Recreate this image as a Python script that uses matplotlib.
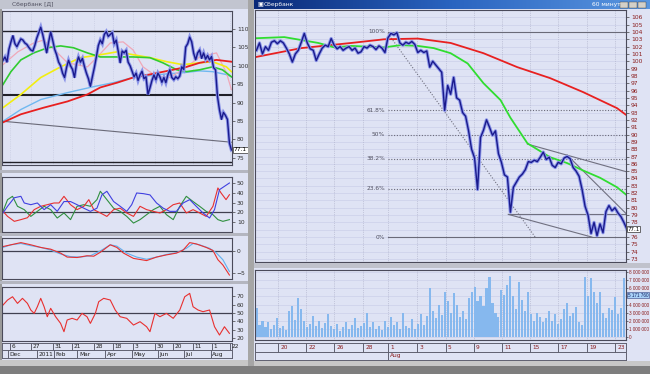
import matplotlib
matplotlib.use('Agg')
import matplotlib.pyplot as plt
from matplotlib.patches import Rectangle
from matplotlib.transforms import blended_transform_factory
from matplotlib.colors import LinearSegmentedColormap
import numpy as np

plt.rcParams['font.family'] = ['DejaVu Sans']

# ---------------- LEFT WINDOW: daily chart ----------------
left_close = [101.5, 102.4, 101.0, 104.5, 106.5, 108.2, 106.0, 105.2, 106.3, 107.3,
              107.0, 106.2, 105.8, 105.0, 104.3, 104.0, 105.5, 107.5, 109.0, 110.5,
              108.5, 106.0, 103.5, 106.5, 109.2, 107.0, 104.5, 103.0, 101.0, 100.0,
              98.0, 96.8, 99.5, 101.5, 100.0, 99.0, 96.8, 100.5, 102.4, 101.0,
              102.0, 99.8, 98.0, 96.5, 94.4, 97.0, 99.5, 102.4, 105.5, 107.0,
              106.0, 108.5, 109.3, 108.0, 108.5, 109.0, 106.0, 107.0, 104.0, 100.8,
              104.0, 103.5, 104.2, 101.0, 100.0, 98.5, 97.0, 98.0, 96.0, 97.5,
              98.5, 96.5, 97.0, 92.2, 94.0, 96.0, 97.5, 96.2, 98.0, 97.0,
              95.5, 96.8, 95.4, 97.5, 98.9, 96.8, 96.2, 97.0, 96.5, 97.2,
              99.7, 99.0, 105.1, 106.0, 107.8, 106.5, 103.4, 101.6, 103.5, 104.3,
              102.0, 103.5, 101.8, 102.8, 101.6, 102.5, 99.5, 98.9, 91.6, 88.0,
              85.4, 87.3, 86.5, 85.4, 79.0, 77.1]

ma_pink_days = [0, 7.5, 15.5, 20.5, 27.5, 32.5, 42.5, 47.5, 54, 60.5, 65.5, 70.5, 77.5, 84, 92.5, 99, 107.5, 112.5, 115]
ma_pink = [100.3, 103.8, 106.2, 107.0, 103.5, 100.8, 99.7, 102.4, 106.2, 106.5, 104.3, 99.7, 97.0, 96.8, 99.7, 102.4, 103.5, 98.1, 93.5]
ma_green_days = [0, 4, 9, 15.5, 22.5, 29, 35.5, 42.5, 49, 57.5, 65.5, 74, 80.5, 87.5, 92.5, 99, 105.5, 110.5, 115]
ma_green = [94.9, 98.4, 101.6, 103.5, 104.9, 105.4, 104.9, 103.5, 102.4, 102.4, 102.4, 102.2, 100.8, 98.9, 98.4, 98.9, 99.7, 98.9, 97.0]
ma_yellow_days = [0, 9, 19, 29, 39, 49, 57.5, 65.5, 74, 82.5, 90.5, 99, 105.5, 112.5, 115]
ma_yellow = [88.6, 92.2, 96.8, 99.7, 102.2, 103.0, 103.8, 103.0, 102.2, 101.1, 100.3, 100.8, 101.1, 99.7, 98.4]
ma_blue_days = [0, 9, 19, 32.5, 45.5, 55.5, 65.5, 74, 82.5, 90.5, 99, 105.5, 112.5, 115]
ma_blue = [84.9, 88.1, 90.8, 92.7, 94.3, 95.4, 96.8, 97.3, 97.8, 98.1, 98.6, 98.4, 97.6, 97.0]
ma_red_days = [0, 9, 20.5, 32.5, 42.5, 49, 57.5, 65.5, 75.5, 85.5, 92.5, 99, 107.5, 115]
ma_red = [84.6, 86.8, 88.6, 90.3, 92.2, 94.1, 95.4, 96.8, 97.8, 98.9, 99.7, 100.8, 101.6, 101.1]

left_levels = [109.5, 92.0, 73.8]
left_trend_days = [0, 115]
left_trend = [84.9, 79.2]

left_tick_days = [3.5, 14, 25, 34.5, 46, 55.5, 65.5, 76.5, 85.5, 95.5, 105, 114.5]
left_tick_labels = ['6', '27', '31', '21', '28', '18', '3', '30', '20', '11', '1', '22']
left_month_days = [2.5, 17, 25.5, 37.5, 51.5, 65, 78, 91, 104.5]
left_month_labels = ['Dec', '2011', 'Feb', 'Mar', 'Apr', 'May', 'Jun', 'Jul', 'Aug']

dmi_blue_days = [0, 2.3, 5.7, 9, 10.7, 14, 17.3, 20.7, 24, 27.3, 30.7, 34, 37.3, 40.7, 44, 47.3, 49.8, 52.3, 55.7,
                 59, 62.3, 64.8, 67.3, 70.7, 74, 77.3, 80.7, 84, 87.3, 90.7, 94, 97.3, 100.7, 104, 106.5, 109, 111.5, 114]
dmi_blue = [19, 26, 35, 36.5, 29.5, 27.7, 29.5, 22.5, 27.7, 20.7, 31, 31, 27.7, 24, 20.7, 24, 38, 41.8, 31,
            26, 20.7, 27.7, 40, 39.3, 38, 29.5, 24, 20.7, 20.7, 29.5, 33, 26, 19, 13.7, 22.5, 43.5, 47, 50.5]
dmi_red_days = [0, 2.3, 5.7, 9, 12.3, 15.7, 19, 22.3, 25.7, 28.2, 30.7, 34, 37.3, 40.7, 43.2, 45.7, 49, 52.3, 55.7,
                59, 62.3, 65.7, 69, 72.3, 75.7, 79, 82.3, 85.7, 89, 92.3, 95.7, 99, 102.3, 105.7, 108.2, 109.8, 112.3, 114]
dmi_red = [20.7, 15.4, 10.2, 12, 14, 22.5, 26, 27.7, 29.5, 29.5, 36.5, 27.7, 22.5, 26, 33, 22.5, 19, 15.4, 22.5,
           24, 19, 15.4, 26, 22.5, 20.7, 19, 22.5, 27.7, 29.5, 19, 22.5, 19, 15.4, 26, 45.3, 40, 33, 38.2]
dmi_green_days = [0, 2.3, 4.8, 7.3, 10.7, 14, 17.3, 20.7, 24, 27.3, 30.7, 34, 37.3, 40.7, 44, 47.3, 49, 52.3, 55.7,
                  59, 62.3, 65.7, 69, 72.3, 75.7, 79, 82.3, 85.7, 89, 92.3, 95.7, 99, 102.3, 105.7, 108.2, 110.7, 114]
dmi_green = [20.7, 33, 36.5, 26, 22.5, 15.4, 20.7, 26, 22.5, 13.7, 19, 12, 26, 27.7, 26, 33, 41.8, 33, 24,
             20.7, 15.4, 8.4, 12, 17.2, 22.5, 26, 17.2, 12, 26, 36.5, 31, 26, 20.7, 17.2, 12, 10.2, 12]

macd_red_days = [0, 4, 9, 14, 19, 24, 29, 32.3, 37.3, 42.3, 45.7, 49, 54, 57.3, 60.7, 65.7, 72.3, 77.3, 82.3,
                 87.3, 90.7, 94, 97.3, 102.3, 105.7, 108.2, 110.7, 114]
macd_red = [1.0, 1.4, 1.9, 1.4, 0.8, 0.4, -0.5, -1.4, -1.5, -1.1, -1.2, -0.3, 1.4, 0.8, -0.5, -1.7, -2.2, -1.4, -0.9,
            -0.5, 0.2, 1.9, 1.6, 0.8, 0.1, -2.0, -3.2, -5.5]
macd_blue_days = [0, 4, 9, 14, 19, 24, 29, 34, 39, 44, 49, 54, 57.3, 62.3, 67.3, 72.3, 77.3, 82.3, 87.3,
                  92.3, 95.7, 99, 104, 107.3, 110.7, 114]
macd_blue = [0.8, 1.4, 1.7, 1.2, 0.8, 0.2, -0.7, -1.3, -1.4, -1.1, 0.0, 1.4, 1.1, -0.5, -1.4, -1.9, -1.4, -0.8, -0.4,
             0.6, 1.7, 1.4, 0.6, -0.4, -2.0, -4.7]

rsi_days = [0, 2.3, 4.8, 7.3, 9.8, 12.3, 14, 15.7, 17.3, 19, 20.7, 22.3, 24, 26.5, 29, 30.7, 32.3, 34.8, 37.3, 39.8,
            42.3, 44, 46.5, 48.2, 50.7, 54, 56.5, 59, 62.3, 65.7, 69, 72.3, 74, 76.5, 79, 82.3, 85.7, 89, 91.5, 94,
            95.7, 98.2, 100.7, 104, 106.5, 109, 111.5, 114]
rsi = [59.5, 65.5, 69.4, 61.5, 67.5, 61.5, 53.6, 49.6, 57.5, 67.5, 57.5, 45.6, 55.6, 45.6, 37.7, 27.8, 41.7, 43.7, 41.7, 49.6,
       45.6, 37.7, 49.6, 63.5, 67.5, 65.5, 53.6, 45.6, 43.7, 35.7, 39.7, 33.7, 27.8, 49.6, 45.6, 49.6, 43.7, 53.6, 69.4, 73.4,
       57.5, 53.6, 51.6, 53.6, 33.7, 23.8, 33.7, 25.8]

# ---------------- RIGHT WINDOW: 60-minute chart ----------------
right_close = [101.5, 102.5, 101.0, 102.0, 101.5, 102.6, 102.8, 102.4, 102.8, 102.5,
               101.8, 101.0, 99.9, 101.0, 101.5, 102.6, 103.8, 102.5, 101.7, 101.5,
               100.1, 101.0, 101.8, 102.2, 102.0, 103.1, 102.2, 101.7, 102.0, 101.5,
               101.8, 102.0, 101.5, 101.8, 101.1, 101.3, 102.0, 101.8, 102.2, 102.0,
               101.6, 102.1, 101.8, 101.2, 103.2, 103.8, 103.6, 103.9, 102.5, 102.2,
               102.6, 102.4, 102.7, 102.3, 101.2, 101.5, 101.2, 101.4, 99.2, 100.0,
               99.5, 99.0, 98.5, 93.3, 96.7, 95.5, 97.8, 95.0, 94.7, 93.0,
               92.5, 90.5, 88.0, 86.8, 82.5, 89.6, 90.6, 92.0, 91.0, 89.9,
               90.5, 87.4, 86.2, 84.5, 84.2, 79.4, 82.8, 83.5, 84.2, 84.6,
               85.2, 86.3, 86.2, 86.5, 86.3, 86.9, 87.6, 86.6, 86.9, 85.8,
               85.5, 86.2, 86.0, 86.8, 87.0, 86.7, 85.5, 85.0, 84.3, 82.5,
               80.2, 79.0, 76.5, 78.0, 76.2, 77.8, 76.6, 79.5, 80.3, 79.6,
               80.0, 79.3, 78.8, 78.0, 77.1]

right_volume_mln = [3.6, 1.5, 2.0, 1.2, 1.8, 1.0, 1.5, 2.4, 1.1, 1.4,
                    0.9, 3.2, 3.8, 2.1, 4.8, 3.5, 2.0, 1.2, 1.6, 2.6,
                    1.4, 2.0, 1.1, 1.7, 2.8, 1.3, 1.0, 1.6, 0.8, 1.2,
                    1.9, 1.0, 1.5, 2.3, 1.1, 1.3, 1.7, 3.0, 1.2, 1.8,
                    1.0, 1.4, 0.9, 2.0, 1.2, 2.5, 1.5, 1.8, 1.0, 3.0,
                    1.4, 1.1, 2.2, 1.0, 1.6, 2.8, 1.5, 2.6, 6.0, 3.2,
                    2.4, 4.0, 2.7, 5.6, 4.5, 3.0, 5.4, 4.0, 2.5, 3.2,
                    2.2, 4.8, 5.5, 6.2, 4.5, 5.0, 3.8, 6.0, 7.4, 4.2,
                    3.0, 2.5, 5.8, 5.2, 6.4, 7.5, 5.0, 3.5, 6.8, 4.6,
                    3.2, 5.6, 2.8, 2.0, 3.0, 2.5, 1.8, 2.4, 3.2, 2.0,
                    2.8, 1.6, 2.2, 3.4, 4.2, 2.6, 3.0, 3.7, 1.8, 1.5,
                    7.4, 5.0, 7.3, 5.6, 4.2, 5.5, 3.0, 2.4, 3.6, 3.3,
                    4.9, 2.8, 3.6, 7.3, 5.2]

r_red_days = [0, 15, 31.7, 42.7, 54, 65, 76, 87.3, 98.3, 109.3, 120.7, 124]
r_red = [100.6, 101.8, 102.5, 103.0, 103.1, 102.5, 101.1, 99.2, 97.7, 95.8, 93.6, 92.6]
r_green_days = [0, 9.3, 20.7, 26, 31.7, 42.7, 48.3, 54, 59.3, 65, 70.7, 76, 81.7, 85, 90.7, 98.3, 104, 109.3, 115, 120.7, 124]
r_green = [103.15, 103.3, 102.5, 101.9, 102.1, 101.9, 102.2, 102.1, 101.8, 101.1, 99.7, 97.0, 94.7, 92.3, 88.8, 86.9,
           86.1, 85.1, 84.1, 82.8, 81.7]

fib_levels = [104.0, 93.3, 90.0, 86.7, 82.6, 76.0]
fib_labels = ['100%', '61.8%', '50%', '38.2%', '23.6%', '0%']
fib_start = 44

trend_lines = [  # (bars, values, style)
    ([44, 93.3], [103.8, 76.0], ':'),
    ([90.7, 124], [88.7, 84.9], '-'),
    ([104, 124], [87.2, 79.1], '-'),
    ([84.3, 124], [79.1, 79.1], '-'),
    ([84.3, 112.3], [79.1, 76.0], '-'),
]

right_price_ticks = list(range(73, 107))
right_price_labels = ['' if v == 77 else str(v) for v in right_price_ticks]

right_tick_bars = [7.3, 16.7, 26, 35.7, 44, 53.7, 63.3, 72.7, 82.3, 91.7, 101, 110.7, 120]
right_tick_labels = ['20', '22', '26', '28', '1', '3', '5', '9', '11', '15', '17', '19', '23']
right_month_bars = [44]
right_month_labels = ['Aug']

vol_ticks = [0, 1, 2, 3, 4, 5, 6, 7, 8]
vol_tick_labels = ['0', '1 000 000', '2 000 000', '3 000 000', '4 000 000', '', '6 000 000', '7 000 000', '8 000 000']

# ---------------- figure ----------------
W, H = 650.0, 374.0
BG = '#dfe3f4'
fig = plt.figure(figsize=(6.5, 3.74), dpi=100)
fig.patch.set_facecolor(BG)


def fr(x0, y0, x1, y1):
    return [x0 / W, 1 - y1 / H, (x1 - x0) / W, (y1 - y0) / H]


def rect(x0, y0, x1, y1, fc, ec='none', lw=0.0):
    fig.patches.append(Rectangle((x0 / W, 1 - y1 / H), (x1 - x0) / W, (y1 - y0) / H,
                                 transform=fig.transFigure, facecolor=fc, edgecolor=ec, linewidth=lw))


def panel(x0, y0, x1, y1, lab_color='#303030'):
    ax = fig.add_axes(fr(x0, y0, x1, y1))
    ax.set_facecolor(BG)
    for s in ax.spines.values():
        s.set_color('#4a4a5a')
        s.set_linewidth(0.8)
    ax.tick_params(axis='x', length=0, labelbottom=False)
    ax.yaxis.tick_right()
    ax.tick_params(axis='y', length=2, width=0.5, labelsize=4.3, pad=1.5, colors='#404040', labelcolor=lab_color)
    return ax


def date_axis(x0, y0, x1, y1, ymid, xlim, ticks, tlabels, months, mlabels, color):
    ax = fig.add_axes(fr(x0, y0, x1, y1))
    ax.set_facecolor(BG)
    ax.set_xlim(*xlim)
    ax.set_ylim(0, 2)
    ax.set_xticks([])
    ax.set_yticks([])
    for s in ax.spines.values():
        s.set_color('#606070')
        s.set_linewidth(0.7)
    ax.axhline(ymid, color='#606070', lw=0.7)
    for t, l in zip(ticks, tlabels):
        ax.plot([t, t], [ymid, 2], color='#606070', lw=0.7)
        ax.text(t + 0.8, (ymid + 2) / 2, l, fontsize=4.2, va='center', ha='left', color=color)
    for m, l in zip(months, mlabels):
        ax.plot([m, m], [0, ymid], color='#606070', lw=0.7)
        ax.text(m + 0.8, ymid / 2, l, fontsize=4.2, va='center', ha='left', color=color)
    return ax


# chrome
rect(0, 0, 250, 9, '#c2c5d0')
rect(0, 9, 2, 366, '#9a9a9a')
rect(248, 0, 254, 366, '#a6a6a6')
rect(0, 170, 248, 173, '#b4b6c0')
rect(0, 233, 248, 236, '#b4b6c0')
rect(0, 281, 248, 284, '#b4b6c0')
rect(254, 263, 650, 268, '#c0c2cc')
rect(0, 360, 248, 366, '#c8c8c8')
rect(254, 361, 650, 366, '#c8c8c8')
rect(0, 366, 650, 374, '#7e7e7e')

axT = fig.add_axes(fr(254, 0, 650, 9))
cm = LinearSegmentedColormap.from_list('tb', ['#0a2a78', '#2a64c0', '#5a96e0'])
axT.imshow(np.linspace(0, 1, 256).reshape(1, -1), aspect='auto', cmap=cm, extent=(0, 1, 0, 1))
axT.axis('off')
fig.text(257 / W, 1 - 4.8 / H, '▣', fontsize=4.5, color='white', va='center')
fig.text(264 / W, 1 - 4.8 / H, 'Сбербанк', fontsize=4.3, color='white', va='center')
fig.text(592 / W, 1 - 4.8 / H, '60 минут', fontsize=4.3, color='white', va='center')
for bx in (620, 629, 638):
    rect(bx, 1.5, bx + 8, 8, '#d4d0c8', ec='#404040', lw=0.3)
fig.text(12 / W, 1 - 4.8 / H, 'Сбербанк [Д]', fontsize=4.3, color='#505060', va='center')

# ---- left main price panel ----
axL = panel(2, 11, 232, 165)
xL = np.arange(len(left_close))
axL.set_xlim(-0.5, 115.3)
axL.set_ylim(73.0, 114.9)
for d in left_tick_days:
    axL.axvline(d, color='#c2c6dc', lw=0.5, ls=':')
for lv, lw in zip(left_levels, (1.0, 1.5, 1.0)):
    axL.axhline(lv, color='#202028', lw=lw)
axL.plot(left_trend_days, left_trend, color='#6a6a78', lw=0.8)
axL.plot(ma_blue_days, ma_blue, color='#70b8f0', lw=1.0)
axL.plot(ma_pink_days, ma_pink, color='#f0a8b8', lw=0.9)
axL.plot(ma_yellow_days, ma_yellow, color='#f2ee10', lw=1.2)
axL.plot(ma_green_days, ma_green, color='#30cc30', lw=1.2)
axL.plot(ma_red_days, ma_red, color='#e82020', lw=1.3)
axL.plot(xL, left_close, color='#8a94e8', lw=2.4, solid_joinstyle='miter')
axL.plot(xL, left_close, color='#1a1a8c', lw=1.0)
axL.set_yticks(range(75, 111, 5))
trL = blended_transform_factory(axL.transAxes, axL.transData)
axL.text(1.008, 77.1, '77.1', transform=trL, fontsize=4.2, va='center', ha='left', clip_on=False, zorder=10,
         bbox=dict(boxstyle='square,pad=0.15', fc='white', ec='#303030', lw=0.5))

# ---- DMI panel ----
axD = panel(2, 177, 232, 232)
axD.set_xlim(-0.5, 115.3)
axD.set_ylim(-1, 56.8)
axD.axhline(20, color='#404050', lw=0.9)
axD.plot(dmi_green_days, dmi_green, color='#309040', lw=0.8)
axD.plot(dmi_red_days, dmi_red, color='#e83030', lw=0.8)
axD.plot(dmi_blue_days, dmi_blue, color='#4040e0', lw=0.8)
axD.set_yticks([10, 20, 30, 40, 50])

# ---- MACD panel ----
axM = panel(2, 238, 232, 279)
axM.set_xlim(-0.5, 115.3)
axM.set_ylim(-6.4, 2.95)
axM.axhline(0, color='#404050', lw=0.9)
axM.plot(macd_blue_days, macd_blue, color='#60b0f0', lw=0.8)
axM.plot(macd_red_days, macd_red, color='#e83030', lw=0.8)
axM.set_yticks([-5, 0])

# ---- RSI panel ----
axR2 = panel(2, 287, 232, 341)
axR2.set_xlim(-0.5, 115.3)
axR2.set_ylim(16.7, 81)
axR2.axhline(50, color='#404050', lw=0.9)
axR2.plot(rsi_days, rsi, color='#e83030', lw=0.8)
axR2.set_yticks([20, 30, 40, 50, 60, 70])

date_axis(2, 343, 232, 358, 1.05, (-0.5, 115.3), left_tick_days, left_tick_labels,
          left_month_days, left_month_labels, '#202020')

# ---- right main price panel ----
RED_LAB = '#8a1c1c'
axR = panel(255, 10, 626, 262, lab_color=RED_LAB)
xR = np.arange(len(right_close))
axR.set_xlim(-0.5, 123.7)
axR.set_ylim(72.6, 107.0)
for v in right_price_ticks:
    axR.axhline(v, color='#c6cae6', lw=0.4, zorder=0)
for t in right_tick_bars:
    axR.axvline(t, color='#a8aac4', lw=0.5, ls=':', zorder=0)
for lv, lab in zip(fib_levels, fib_labels):
    ls = '-' if lab in ('100%', '0%') else (0, (1, 1.5))
    axR.plot([fib_start, 124], [lv, lv], color='#6a6a78', lw=0.8, ls=ls)
    axR.text(fib_start - 1.0, lv, lab, fontsize=4.2, color='#505060', ha='right', va='center')
for bars, vals, st in trend_lines:
    axR.plot(bars, vals, color='#707080', lw=0.8, ls=(0, (1, 1.5)) if st == ':' else '-')
axR.plot(r_red_days, r_red, color='#e82020', lw=1.3)
axR.plot(r_green_days, r_green, color='#30dd30', lw=1.3)
axR.plot(xR, right_close, color='#8a94e8', lw=2.4)
axR.plot(xR, right_close, color='#1a1a8c', lw=1.0)
axR.set_yticks(right_price_ticks)
axR.set_yticklabels(right_price_labels)
trR = blended_transform_factory(axR.transAxes, axR.transData)
axR.text(1.004, 77.1, '77.1', transform=trR, fontsize=4.0, va='center', ha='left', clip_on=False, zorder=10,
         bbox=dict(boxstyle='square,pad=0.1', fc='white', ec='#303030', lw=0.5))

# ---- volume panel ----
axV = panel(255, 270, 626, 340, lab_color=RED_LAB)
axV.tick_params(axis='y', length=1.5, pad=0.8, labelsize=3.3)
axV.set_xlim(-0.5, 123.7)
axV.set_ylim(-0.37, 8.27)
for v in vol_ticks:
    axV.axhline(v, color='#c6cae6', lw=0.4, zorder=0)
for t in right_tick_bars:
    axV.axvline(t, color='#a8aac4', lw=0.5, ls=':', zorder=0)
axV.bar(np.arange(len(right_volume_mln)), right_volume_mln, width=0.7, color='#86b8ee', edgecolor='none')
axV.set_yticks(vol_ticks)
axV.set_yticklabels(vol_tick_labels, family=['Liberation Sans', 'DejaVu Sans'])
trV = blended_transform_factory(axV.transAxes, axV.transData)
axV.text(1.005, 5.17, '5 171 760', transform=trV, fontsize=3.3, va='center', ha='left', clip_on=False, zorder=10,
         family=['Liberation Sans', 'DejaVu Sans'], color='#102060',
         bbox=dict(boxstyle='square,pad=0.12', fc='#a8d0f8', ec='#304080', lw=0.4))

date_axis(255, 343, 626, 360, 0.95, (-0.5, 123.7), right_tick_bars, right_tick_labels,
          right_month_bars, right_month_labels, RED_LAB)

fig.savefig('out.png', dpi=100, facecolor=fig.get_facecolor())
